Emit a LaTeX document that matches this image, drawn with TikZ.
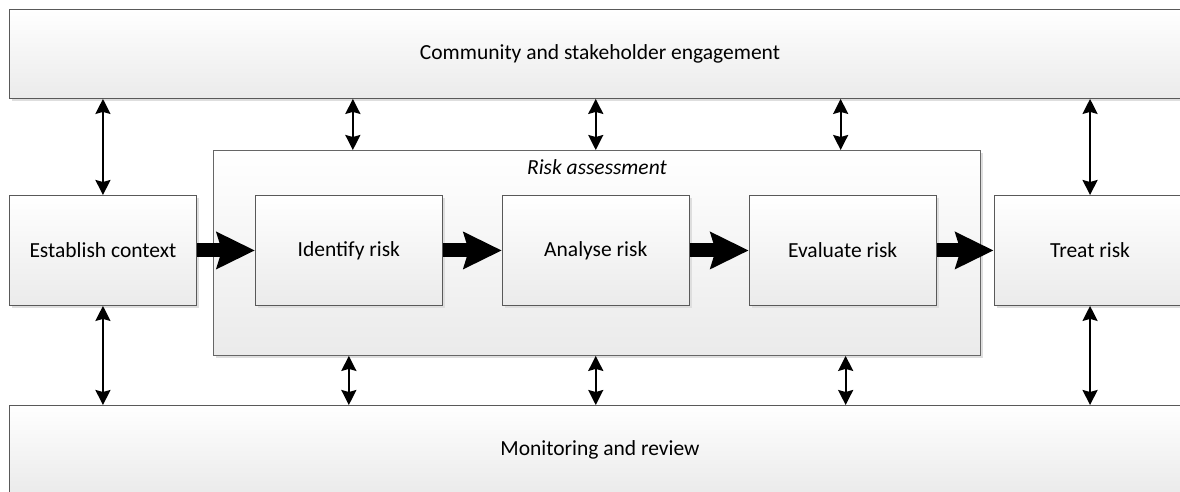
\documentclass[tikz,border=0pt]{standalone}
\usepackage{fontspec}
\setmainfont{Carlito}
\usetikzlibrary{arrows.meta, positioning, shadows}

\begin{document}
\begin{tikzpicture}[
        x=1pt, y=1pt,
        font=\fontsize{21.5}{25}\selectfont,
        box/.style={rectangle, draw=black!65, line width=0.9pt, top color=white, bottom color=black!8,
            drop shadow={shadow xshift=3pt, shadow yshift=-3pt, fill=black!13, opacity=1}},
        band/.style={box, minimum width=1181pt},
        stepbox/.style={box, minimum width=187pt, minimum height=110pt, inner sep=0pt},
        group/.style={box, draw=black!60, minimum width=767pt, minimum height=205pt},
        flow/.style={-{Stealth[length=38pt, width=36pt, inset=5pt]}, line width=14pt},
        link/.style={<->, >={Stealth[length=15pt, width=15pt, inset=2pt]}, line width=2.1pt}
    ]
        \useasboundingbox (0,0) rectangle (1180,-491);
        \clip (0,0) rectangle (1180,-491);

        % Outer bands
        \node[band, minimum height=89pt, anchor=north west] (engage) at (9,-9) {Community and stakeholder engagement};
        \node[band, minimum height=88pt, anchor=north west] (review) at (9,-405) {Monitoring and review};

        % Risk assessment group
        \node[group, anchor=north west] (risk) at (213,-150) {};
        \node[below=6pt of risk.north, font=\fontsize{21.5}{25}\selectfont\itshape] (risklbl) {Risk assessment};

        % Process steps
        \node[stepbox, anchor=north west] (ctx) at (9,-195) {Establish context};
        \node[stepbox, right=58pt of ctx] (ident) {Identify risk};
        \node[stepbox, right=59pt of ident] (anal) {Analyse risk};
        \node[stepbox, right=59pt of anal] (eval) {Evaluate risk};
        \node[stepbox, right=57pt of eval, minimum width=192pt] (treat) {Treat risk};

        \draw[flow] (ctx) -- (ident);
        \draw[flow] (ident) -- (anal);
        \draw[flow] (anal) -- (eval);
        \draw[flow] (eval) -- (treat);

        % Links to the bands
        \draw[link] (engage.south -| ctx.north) -- (ctx.north);
        \draw[link] (ctx.south) -- (review.north -| ctx.south);
        \draw[link] (engage.south -| treat.north) -- (treat.north);
        \draw[link] (treat.south) -- (review.north -| treat.south);

        \draw[link] ([xshift=4pt]engage.south -| ident.north) -- ([xshift=4pt]risk.north -| ident.north);
        \draw[link] (engage.south -| anal.north) -- (risk.north -| anal.north);
        \draw[link] ([xshift=-2pt]engage.south -| eval.north) -- ([xshift=-2pt]risk.north -| eval.north);
        \draw[link] (risk.south -| ident.south) -- (review.north -| ident.south);
        \draw[link] (risk.south -| anal.south) -- (review.north -| anal.south);
        \draw[link] ([xshift=3pt]risk.south -| eval.south) -- ([xshift=3pt]review.north -| eval.south);

    \end{tikzpicture}
\end{document}
